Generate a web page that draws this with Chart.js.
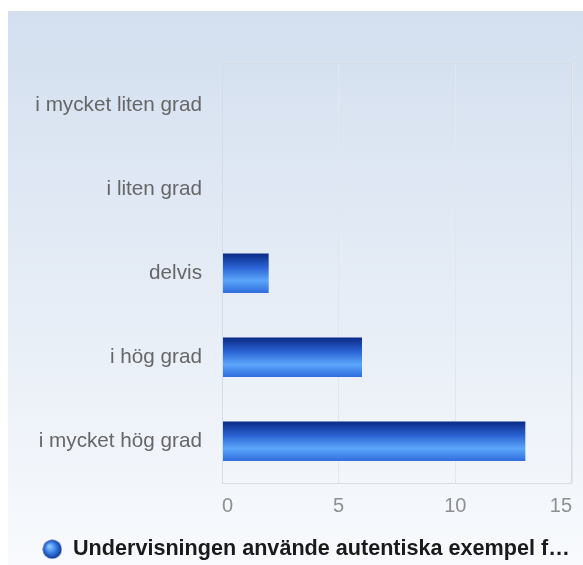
<!DOCTYPE html>
<html><head><meta charset="utf-8">
<style>html,body{margin:0;padding:0;background:#fff;}#wrap{width:583px;height:565px;position:relative;}</style>
<script src="https://cdn.jsdelivr.net/npm/chart.js@4/dist/chart.umd.min.js"></script>
</head><body><div id="wrap"><canvas id="c" width="583" height="565"></canvas></div>
<script>
const categories = ["i mycket liten grad", "i liten grad", "delvis", "i hög grad", "i mycket hög grad"];
const values = [0, 0, 2, 6, 13];
const seriesName = "Undervisningen använde autentiska exempel f…";
const xTicks = [0, 5, 10, 15];

const FONT = "'Liberation Sans', Arial, sans-serif";

// sphere icon for legend
const sphere = document.createElement('canvas');
sphere.width = 20; sphere.height = 20;
(function(){
  const g = sphere.getContext('2d');
  const rg = g.createRadialGradient(7, 7, 1, 10, 10, 10);
  rg.addColorStop(0, '#8cc4ff');
  rg.addColorStop(0.45, '#3d85ea');
  rg.addColorStop(1, '#0b2f8f');
  g.fillStyle = rg;
  g.beginPath(); g.arc(10, 10, 9.5, 0, Math.PI * 2); g.fill();
})();

const bgPlugin = {
  id: 'bg',
  afterLayout(chart) {
    if (chart.legend) { chart.legend.left += 20; chart.legend.right += 20; }
  },
  beforeDraw(chart) {
    const ctx = chart.ctx;
    ctx.save();
    ctx.fillStyle = '#ffffff';
    ctx.fillRect(0, 0, chart.width, chart.height);
    const g = ctx.createLinearGradient(0, 11, 0, chart.height);
    g.addColorStop(0, '#d3dfef');
    g.addColorStop(1, '#f8fafd');
    ctx.fillStyle = g;
    ctx.fillRect(8, 11, chart.width - 8, chart.height - 11);
    ctx.restore();
  },
  beforeDatasetsDraw(chart) {
    const meta = chart.getDatasetMeta(0);
    const ctx = chart.ctx;
    meta.data.forEach(el => {
      const h = el.height;
      const top = el.y - h / 2;
      const g = ctx.createLinearGradient(0, top, 0, top + h);
      g.addColorStop(0, '#0a2a85');
      g.addColorStop(0.35, '#2a62d2');
      g.addColorStop(0.68, '#5ba6fb');
      g.addColorStop(1, '#2f6ddc');
      el.options.backgroundColor = g;
    });
  },
  afterDraw(chart) {
    const a = chart.chartArea;
    const ctx = chart.ctx;
    ctx.save();
    ctx.strokeStyle = '#d5dce6';
    ctx.lineWidth = 1;
    ctx.strokeRect(Math.round(a.left) + 0.5, Math.round(a.top) + 0.5, Math.round(a.right - a.left) - 1, Math.round(a.bottom - a.top));
    ctx.restore();
  }
};

new Chart(document.getElementById('c'), {
  type: 'bar',
  data: {
    labels: categories,
    datasets: [{
      label: seriesName,
      data: values,
      backgroundColor: (c) => '#2f6ddc',
      borderWidth: 0,
      barPercentage: 0.47,
      categoryPercentage: 1.0
    }]
  },
  options: {
    indexAxis: 'y',
    responsive: false,
    animation: false,
    devicePixelRatio: 1,
    layout: { padding: { top: 63, right: 11, left: 0, bottom: -5 } },
    scales: {
      x: {
        min: 0, max: 15,
        afterBuildTicks(scale) { scale.ticks = xTicks.map(v => ({ value: v })); },
        afterFit(scale) { scale.height = 45; scale.paddingRight = 0; scale.paddingLeft = 0; },
        ticks: { color: '#8f8f8f', font: { family: FONT, size: 20 }, padding: 11, align: 'inner' },
        grid: { color: '#e2e7ee', drawTicks: false },
        border: { display: false }
      },
      y: {
        afterFit(scale) { scale.width = 222; },
        ticks: { color: '#666666', font: { family: FONT, size: 20.7 }, padding: 20 },
        grid: { display: false, drawTicks: false },
        border: { display: false }
      }
    },
    plugins: {
      legend: {
        position: 'bottom',
        labels: {
          color: '#1a1a1a',
          font: { family: FONT, size: 21.6, weight: 'bold' },
          usePointStyle: true,
          boxWidth: 20, boxHeight: 20,
          padding: 10,
          generateLabels(chart) {
            return [{ text: seriesName, pointStyle: sphere, fillStyle: '#2f6ddc', strokeStyle: 'transparent', lineWidth: 0, datasetIndex: 0, fontColor: '#1a1a1a' }];
          }
        }
      },
      tooltip: { enabled: false }
    }
  },
  plugins: [bgPlugin]
});
</script></body></html>
